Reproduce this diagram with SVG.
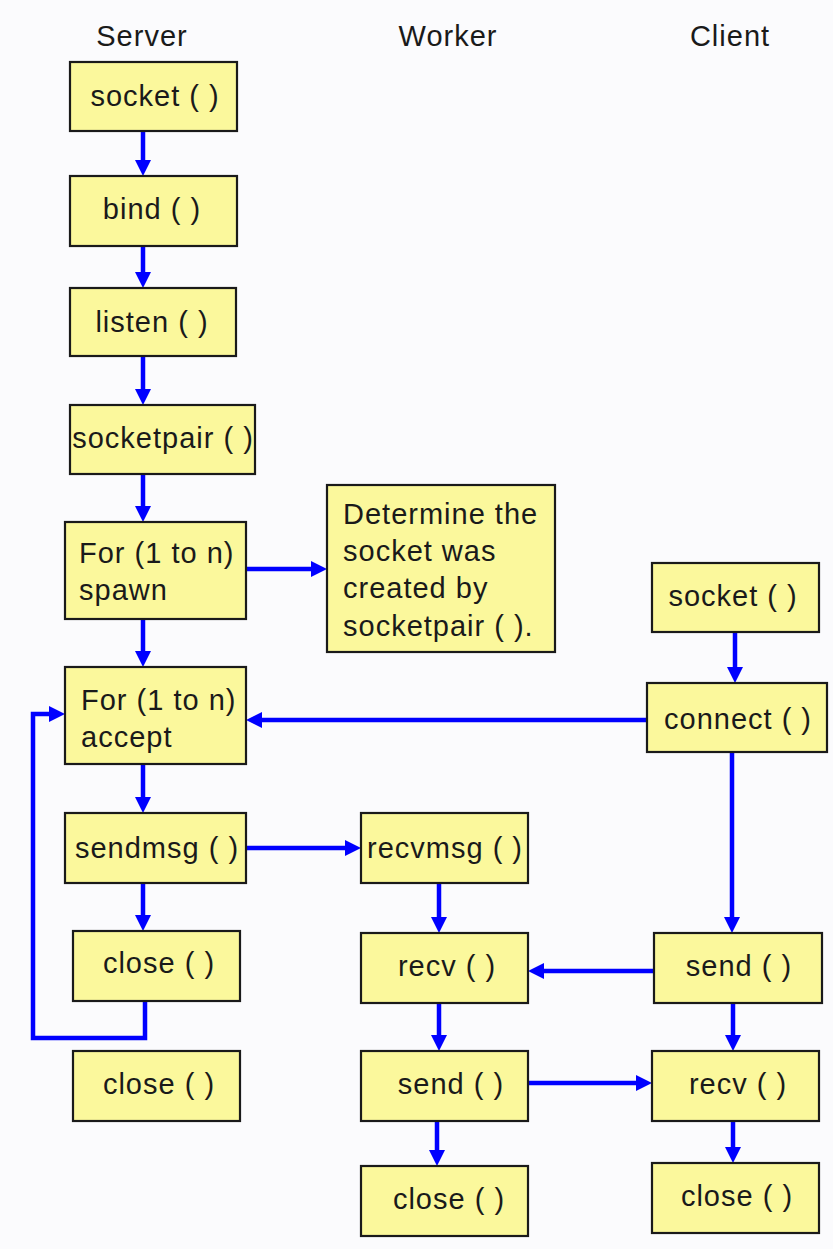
<svg xmlns="http://www.w3.org/2000/svg" width="833" height="1249" viewBox="0 0 833 1249">
<style>
.bx{fill:#FBF89C;stroke:#1a1a1a;stroke-width:2.2}
.t{font-family:"Liberation Sans",Arial,sans-serif;font-size:29px;letter-spacing:1px;fill:#1a1a1a;text-anchor:middle}
.tl{font-family:"Liberation Sans",Arial,sans-serif;font-size:29px;letter-spacing:1px;fill:#1a1a1a}
.h{font-family:"Liberation Sans",Arial,sans-serif;font-size:29px;letter-spacing:1px;fill:#1a1a1a;text-anchor:middle}
.c{stroke:#0000FF;stroke-width:4.5;fill:none;marker-end:url(#ah)}
</style>
<defs>
<marker id="ah" markerWidth="16" markerHeight="16" refX="2" refY="8" orient="auto" markerUnits="userSpaceOnUse">
<path d="M0,0 L16,8 L0,16 z" fill="#0000FF"/>
</marker>
</defs>
<rect x="0" y="0" width="833" height="1249" fill="#FBFBFD"/>
<g id="headers">
<text class="h" x="142" y="46">Server</text>
<text class="h" x="448" y="46">Worker</text>
<text class="h" x="730" y="46">Client</text>
</g>
<g id="connectors">
<line class="c" x1="143" y1="131" x2="143" y2="162"/>
<line class="c" x1="143" y1="246" x2="143" y2="274"/>
<line class="c" x1="143" y1="356" x2="143" y2="391"/>
<line class="c" x1="143" y1="474" x2="143" y2="508"/>
<line class="c" x1="246" y1="569" x2="313" y2="569"/>
<line class="c" x1="143" y1="619" x2="143" y2="653"/>
<line class="c" x1="647" y1="720" x2="260" y2="720"/>
<line class="c" x1="143" y1="764" x2="143" y2="799"/>
<line class="c" x1="246" y1="848" x2="347" y2="848"/>
<line class="c" x1="143" y1="883" x2="143" y2="917"/>
<polyline class="c" points="145,1001 145,1038 33,1038 33,714 51,714"/>
<line class="c" x1="735" y1="632" x2="735" y2="669"/>
<line class="c" x1="732" y1="752" x2="732" y2="919"/>
<line class="c" x1="654" y1="971" x2="542" y2="971"/>
<line class="c" x1="439" y1="883" x2="439" y2="919"/>
<line class="c" x1="439" y1="1003" x2="439" y2="1037"/>
<line class="c" x1="528" y1="1083" x2="638" y2="1083"/>
<line class="c" x1="437" y1="1121" x2="437" y2="1152"/>
<line class="c" x1="733" y1="1003" x2="733" y2="1037"/>
<line class="c" x1="733" y1="1121" x2="733" y2="1149"/>
</g>
<g id="srv-socket"><rect class="bx" x="70" y="62" width="167" height="69"/><text class="t" x="155" y="106">socket ( )</text></g>
<g id="srv-bind"><rect class="bx" x="70" y="176" width="167" height="70"/><text class="t" x="152" y="219">bind ( )</text></g>
<g id="srv-listen"><rect class="bx" x="70" y="288" width="166" height="68"/><text class="t" x="152" y="332">listen ( )</text></g>
<g id="srv-socketpair"><rect class="bx" x="70" y="405" width="185" height="69"/><text class="t" x="163" y="448">socketpair ( )</text></g>
<g id="srv-spawn"><rect class="bx" x="65" y="522" width="181" height="97"/><text class="tl" x="79" y="563">For (1 to n)</text><text class="tl" x="79" y="600">spawn</text></g>
<g id="note"><rect class="bx" x="327" y="485" width="228" height="167"/><text class="tl" x="343" y="524">Determine the</text><text class="tl" x="343" y="561">socket was</text><text class="tl" x="343" y="598">created by</text><text class="tl" x="343" y="636">socketpair ( ).</text></g>
<g id="srv-accept"><rect class="bx" x="65" y="667" width="181" height="97"/><text class="tl" x="81" y="710">For (1 to n)</text><text class="tl" x="81" y="747">accept</text></g>
<g id="srv-sendmsg"><rect class="bx" x="65" y="813" width="181" height="70"/><text class="t" x="157" y="858">sendmsg ( )</text></g>
<g id="srv-close1"><rect class="bx" x="73" y="931" width="167" height="70"/><text class="t" x="159" y="973">close ( )</text></g>
<g id="srv-close2"><rect class="bx" x="73" y="1051" width="167" height="70"/><text class="t" x="159" y="1094">close ( )</text></g>
<g id="wrk-recvmsg"><rect class="bx" x="361" y="813" width="167" height="70"/><text class="t" x="445" y="858">recvmsg ( )</text></g>
<g id="wrk-recv"><rect class="bx" x="361" y="933" width="167" height="70"/><text class="t" x="447" y="976">recv ( )</text></g>
<g id="wrk-send"><rect class="bx" x="361" y="1051" width="167" height="70"/><text class="t" x="451" y="1094">send ( )</text></g>
<g id="wrk-close"><rect class="bx" x="361" y="1166" width="167" height="70"/><text class="t" x="449" y="1209">close ( )</text></g>
<g id="cli-socket"><rect class="bx" x="652" y="563" width="167" height="69"/><text class="t" x="733" y="606">socket ( )</text></g>
<g id="cli-connect"><rect class="bx" x="647" y="683" width="180" height="69"/><text class="t" x="738" y="729">connect ( )</text></g>
<g id="cli-send"><rect class="bx" x="654" y="933" width="168" height="70"/><text class="t" x="739" y="976">send ( )</text></g>
<g id="cli-recv"><rect class="bx" x="652" y="1051" width="167" height="70"/><text class="t" x="738" y="1094">recv ( )</text></g>
<g id="cli-close"><rect class="bx" x="652" y="1163" width="167" height="70"/><text class="t" x="737" y="1206">close ( )</text></g>
</svg>
